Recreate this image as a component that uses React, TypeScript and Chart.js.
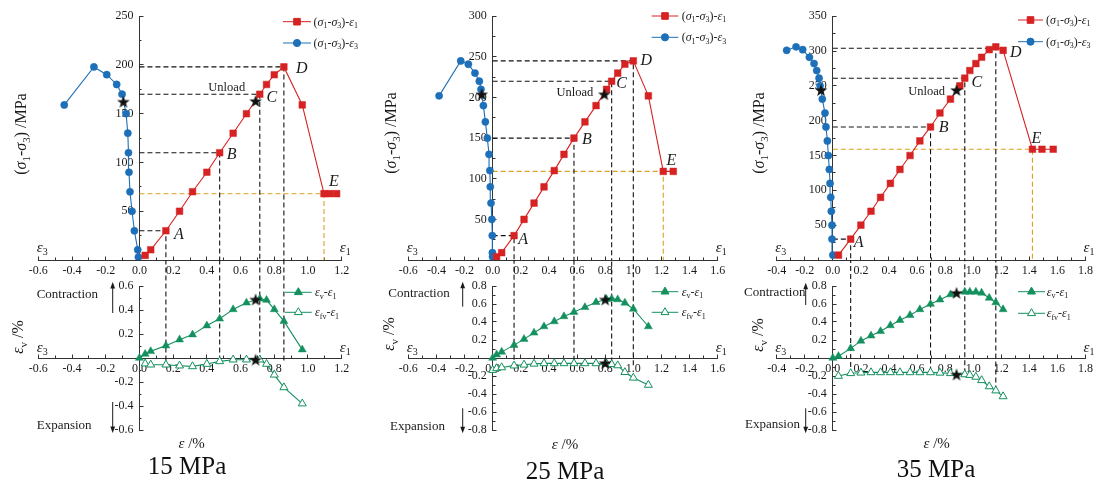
import React, { useEffect, useRef } from 'react';
import { Chart, registerables } from 'chart.js';
Chart.register(...registerables);

const FONT = "'Liberation Serif', 'Times New Roman', Times, serif";
const INK = '#1a1a1a';
const AXIS = '#333333';
const RED = '#d62222';
const BLUE = '#1d6fb8';
const GREEN = '#14905e';
const GOLD = '#d9a320';

// ---------------- 15 MPa ----------------
const e1_15 = [0.034, 0.067, 0.157, 0.238, 0.315, 0.4, 0.476, 0.556, 0.635, 0.714, 0.754, 0.8, 0.857, 0.966, 1.095, 1.13, 1.17];
const q1_15 = [4.7, 10.5, 30, 50, 70, 90, 110, 130, 150, 170, 180, 190, 198, 159, 68, 68, 68];
const e3_15 = [-0.006, -0.01, -0.03, -0.044, -0.056, -0.062, -0.065, -0.069, -0.079, -0.103, -0.135, -0.194, -0.27, -0.446];
const q3_15 = [3, 10.5, 30, 50, 70, 90, 110, 130, 150, 170, 180, 190, 198, 159];
const starUX_15 = [-0.095, 0.689];
const starUY_15 = [162.4, 163];
const evX_15 = [0, 0.034, 0.067, 0.157, 0.238, 0.315, 0.4, 0.476, 0.556, 0.635, 0.714, 0.754, 0.8, 0.857, 0.966];
const ev_15 = [0, 0.033, 0.056, 0.103, 0.153, 0.195, 0.27, 0.327, 0.405, 0.46, 0.494, 0.483, 0.405, 0.307, 0.07];
const efvX_15 = [0.034, 0.067, 0.157, 0.238, 0.315, 0.4, 0.476, 0.556, 0.635, 0.714, 0.754, 0.8, 0.857, 0.966];
const efv_15 = [-0.047, -0.056, -0.056, -0.064, -0.07, -0.05, -0.028, -0.014, -0.014, -0.014, -0.05, -0.14, -0.245, -0.38];
const starLX_15 = [0.689, 0.689];
const starLY_15 = [0.488, -0.014];
const keyX_15 = [0.157, 0.476, 0.714, 0.857, 1.095];
const keyY_15 = [30, 110, 170, 198, 68];
const guideEnd_15 = [-0.02, -0.02, -0.02, -0.02];

// ---------------- 25 MPa ----------------
const e1_25 = [0.028, 0.064, 0.152, 0.223, 0.294, 0.365, 0.438, 0.507, 0.578, 0.656, 0.735, 0.81, 0.846, 0.889, 0.94, 1.0, 1.107, 1.213, 1.284];
const q1_25 = [4, 9, 30, 50, 70, 90, 110, 130, 150, 170, 190, 210, 220, 230, 241, 245, 202, 109, 109];
const e3_25 = [-0.001, -0.002, -0.003, -0.006, -0.012, -0.017, -0.02, -0.026, -0.038, -0.052, -0.066, -0.083, -0.095, -0.126, -0.173, -0.227, -0.381];
const q3_25 = [4, 9, 30, 50, 70, 90, 110, 130, 150, 170, 190, 210, 220, 230, 241, 245, 202];
const starUX_25 = [-0.078, 0.794];
const starUY_25 = [204, 204];
const evX_25 = [0, 0.028, 0.064, 0.152, 0.223, 0.294, 0.365, 0.438, 0.507, 0.578, 0.656, 0.735, 0.81, 0.846, 0.889, 0.94, 1.0, 1.107];
const ev_25 = [0, 0.038, 0.068, 0.143, 0.21, 0.28, 0.35, 0.406, 0.462, 0.51, 0.564, 0.62, 0.652, 0.658, 0.65, 0.613, 0.545, 0.35];
const efvX_25 = [0, 0.028, 0.064, 0.152, 0.223, 0.294, 0.365, 0.438, 0.507, 0.578, 0.656, 0.735, 0.81, 0.846, 0.889, 0.94, 1.0, 1.107];
const efv_25 = [-0.135, -0.115, -0.105, -0.085, -0.075, -0.065, -0.06, -0.06, -0.06, -0.06, -0.06, -0.06, -0.064, -0.07, -0.083, -0.158, -0.22, -0.3];
const starLX_25 = [0.8, 0.8];
const starLY_25 = [0.65, -0.056];
const keyX_25 = [0.152, 0.578, 0.846, 1.0, 1.213];
const keyY_25 = [30, 150, 220, 245, 109];
const guideEnd_25 = [-0.02, -0.03, -0.05, -0.08];

// ---------------- 35 MPa ----------------
const e1_35 = [0.04, 0.127, 0.2, 0.272, 0.34, 0.41, 0.478, 0.55, 0.62, 0.696, 0.763, 0.838, 0.905, 0.94, 0.976, 1.019, 1.06, 1.114, 1.161, 1.213, 1.422, 1.49, 1.57];
const q1_35 = [7, 30, 50, 70, 90, 110, 130, 150, 171, 191, 211, 231, 250, 261, 272, 282, 291, 302, 306, 301, 159, 159, 159];
const e3_35 = [0, -0.006, -0.006, -0.011, -0.015, -0.02, -0.025, -0.032, -0.039, -0.049, -0.056, -0.075, -0.091, -0.098, -0.115, -0.134, -0.167, -0.215, -0.262, -0.329];
const q3_35 = [7, 30, 50, 70, 90, 110, 130, 150, 171, 191, 211, 231, 250, 261, 272, 282, 291, 302, 306, 301];
const starUX_35 = [-0.084, 0.881];
const starUY_35 = [244, 244];
const evX_35 = [0, 0.04, 0.127, 0.2, 0.272, 0.34, 0.41, 0.478, 0.55, 0.62, 0.696, 0.763, 0.838, 0.94, 0.976, 1.019, 1.06, 1.114, 1.161, 1.213];
const ev_35 = [0, 0.02, 0.107, 0.19, 0.248, 0.297, 0.362, 0.42, 0.476, 0.54, 0.6, 0.648, 0.705, 0.735, 0.735, 0.735, 0.724, 0.667, 0.617, 0.54];
const efvX_35 = [0.04, 0.127, 0.2, 0.272, 0.34, 0.41, 0.478, 0.55, 0.62, 0.696, 0.763, 0.838, 0.94, 0.976, 1.019, 1.06, 1.114, 1.161, 1.213];
const efv_35 = [-0.2, -0.17, -0.164, -0.16, -0.16, -0.16, -0.16, -0.16, -0.16, -0.16, -0.165, -0.17, -0.183, -0.19, -0.21, -0.248, -0.316, -0.362, -0.427];
const starLX_35 = [0.881, 0.881];
const starLY_35 = [0.724, -0.183];
const keyX_35 = [0.127, 0.696, 0.94, 1.161, 1.422];
const keyY_35 = [30, 191, 261, 304, 159];
const guideEnd_35 = [-0.1, -0.15, -0.17, -0.36];

const keyNames = ['A', 'B', 'C', 'D', 'E'];
const panelNames = ['15 MPa', '25 MPa', '35 MPa'];

// ---------------- layout ----------------
const UP_H = 285;
const AXIS_PX = 260;
const LOW_TOP = 260;
const LOW_H = 224;
const LOW_AREA_TOP = 286;
const LOW_AREA_BOT = 430;

interface Panel {
  name: string;
  left: number; width: number; areaL: number; areaR: number; upTop: number;
  xMin: number; xMax: number; yMaxU: number; yStepU: number; yMaxL: number;
  e1: number[]; q1: number[]; e3: number[]; q3: number[];
  starUX: number[]; starUY: number[];
  evX: number[]; ev: number[]; efvX: number[]; efv: number[];
  starLX: number[]; starLY: number[];
  keyX: number[]; keyY: number[]; guideEnd: number[];
  letterOff: number[][]; unload: number[];
  yTitleU: number[]; yTitleL: number[];
  legU: number[]; legL: number[];
  contr: number[]; expan: number[];
  xTitle: number[]; title: number[];
}

const PANELS: Panel[] = [
  {
    name: panelNames[0], left: 0, width: 368, areaL: 38.3, areaR: 341.7, upTop: 15,
    xMin: -0.6, xMax: 1.2, yMaxU: 250, yStepU: 50, yMaxL: 0.6,
    e1: e1_15, q1: q1_15, e3: e3_15, q3: q3_15, starUX: starUX_15, starUY: starUY_15,
    evX: evX_15, ev: ev_15, efvX: efvX_15, efv: efv_15, starLX: starLX_15, starLY: starLY_15,
    keyX: keyX_15, keyY: keyY_15, guideEnd: guideEnd_15,
    letterOff: [[13, 3], [12, 1], [12, 2], [18, 1], [10, -13]], unload: [0.518, 177.6],
    yTitleU: [21, 134], yTitleL: [18, 337],
    legU: [21.7, 43, 283, 311, 313.5], legL: [292.3, 312.3, 285, 311.7, 315],
    contr: [36.7, 293.3, 112.7, 313, 282], expan: [36.7, 425, 112.7, 402, 433],
    xTitle: [191.7, 443.3], title: [187, 465],
  },
  {
    name: panelNames[1], left: 368, width: 372, areaL: 408.3, areaR: 717.7, upTop: 12.7,
    xMin: -0.6, xMax: 1.6, yMaxU: 300, yStepU: 50, yMaxL: 0.8,
    e1: e1_25, q1: q1_25, e3: e3_25, q3: q3_25, starUX: starUX_25, starUY: starUY_25,
    evX: evX_25, ev: ev_25, efvX: efvX_25, efv: efv_25, starLX: starLX_25, starLY: starLY_25,
    keyX: keyX_25, keyY: keyY_25, guideEnd: guideEnd_25,
    letterOff: [[9, 3], [13, 0], [10, 1], [13, -1], [8, -12]], unload: [0.585, 207],
    yTitleU: [391, 133], yTitleL: [389, 334],
    legU: [16, 37.3, 651.7, 678.3, 681.7], legL: [291.7, 312.3, 651.7, 678.3, 681.7],
    contr: [388.3, 292.3, 462.7, 306.7, 281.7], expan: [390, 425.7, 462.7, 408.3, 433.3],
    xTitle: [565, 444], title: [565, 470],
  },
  {
    name: panelNames[2], left: 740, width: 361, areaL: 776.7, areaR: 1085.7, upTop: 15,
    xMin: -0.4, xMax: 1.8, yMaxU: 350, yStepU: 50, yMaxL: 0.8,
    e1: e1_35, q1: q1_35, e3: e3_35, q3: q3_35, starUX: starUX_35, starUY: starUY_35,
    evX: evX_35, ev: ev_35, efvX: efvX_35, efv: efv_35, starLX: starLX_35, starLY: starLY_35,
    keyX: keyX_35, keyY: keyY_35, guideEnd: guideEnd_35,
    letterOff: [[8, 2], [13, 0], [12, 3], [20, 3], [4, -12]], unload: [0.668, 243],
    yTitleU: [759, 133], yTitleL: [758, 335],
    legU: [20, 41.7, 1018, 1043, 1046], legL: [291.7, 313.3, 1018, 1045, 1046.7],
    contr: [744, 291.7, 805.7, 305, 282.7], expan: [745, 424, 805.7, 408.3, 433.3],
    xTitle: [936.7, 443.3], title: [936, 468],
  },
];

// ---------------- helpers ----------------
type Seg = { t: string; it?: boolean; sub?: boolean };
function parseRich(s: string, allItalic: boolean): Seg[] {
  const out: Seg[] = [];
  let buf = '';
  const flush = () => { if (buf) { out.push({ t: buf, it: allItalic }); buf = ''; } };
  let i = 0;
  while (i < s.length) {
    const ch = s[i];
    if (ch === '_' && s[i + 1] === '{') {
      flush();
      const j = s.indexOf('}', i);
      out.push({ t: s.slice(i + 2, j), sub: true });
      i = j + 1;
      continue;
    }
    if (ch === 'σ' || ch === 'ε') { flush(); out.push({ t: ch, it: true }); i++; continue; }
    buf += ch; i++;
  }
  flush();
  return out;
}

function drawRich(ctx: CanvasRenderingContext2D, text: string, x: number, y: number, size: number,
  align: 'left' | 'center' | 'right' = 'left', color = INK, allItalic = false) {
  const segs = parseRich(text, allItalic);
  const font = (s: Seg) => `${s.it ? 'italic ' : ''}${s.sub ? Math.round(size * 0.68) : size}px ${FONT}`;
  let w = 0;
  for (const s of segs) { ctx.font = font(s); w += ctx.measureText(s.t).width; }
  let cx = align === 'left' ? x : align === 'center' ? x - w / 2 : x - w;
  const base = y + size * 0.34;
  ctx.textAlign = 'left';
  ctx.textBaseline = 'alphabetic';
  ctx.fillStyle = color;
  for (const s of segs) {
    ctx.font = font(s);
    ctx.fillText(s.t, cx, s.sub ? base + size * 0.2 : base);
    cx += ctx.measureText(s.t).width;
  }
}

function drawRotated(ctx: CanvasRenderingContext2D, text: string, x: number, y: number, size: number) {
  ctx.save();
  ctx.translate(x, y);
  ctx.rotate(-Math.PI / 2);
  drawRich(ctx, text, 0, 0, size, 'center');
  ctx.restore();
}

function drawMarker(ctx: CanvasRenderingContext2D, kind: string, x: number, y: number, color: string, hollow = false) {
  ctx.fillStyle = hollow ? '#ffffff' : color;
  ctx.strokeStyle = color;
  ctx.lineWidth = 1;
  ctx.beginPath();
  if (kind === 'rect') ctx.rect(x - 3.3, y - 3.3, 6.6, 6.6);
  else if (kind === 'circle') ctx.arc(x, y, 3.6, 0, Math.PI * 2);
  else { ctx.moveTo(x, y - 4.6); ctx.lineTo(x + 4, y + 2.3); ctx.lineTo(x - 4, y + 2.3); ctx.closePath(); }
  ctx.fill();
  ctx.stroke();
}

function drawLegendRow(ctx: CanvasRenderingContext2D, x1: number, x2: number, y: number, color: string,
  kind: string, hollow: boolean, text: string, tx: number) {
  ctx.strokeStyle = color;
  ctx.lineWidth = 1;
  ctx.beginPath(); ctx.moveTo(x1, y); ctx.lineTo(x2, y); ctx.stroke();
  drawMarker(ctx, kind, (x1 + x2) / 2, y, color, hollow);
  drawRich(ctx, text, tx, y, 12, 'left');
}

function drawArrow(ctx: CanvasRenderingContext2D, x: number, y0: number, y1: number) {
  ctx.strokeStyle = INK; ctx.fillStyle = INK; ctx.lineWidth = 1;
  const d = y1 < y0 ? -1 : 1;
  ctx.beginPath(); ctx.moveTo(x, y0); ctx.lineTo(x, y1 - d * 4); ctx.stroke();
  ctx.beginPath(); ctx.moveTo(x, y1); ctx.lineTo(x - 2.4, y1 - d * 6.5); ctx.lineTo(x + 2.4, y1 - d * 6.5); ctx.closePath(); ctx.fill();
}

let starImg: HTMLCanvasElement | null = null;
function getStar(): HTMLCanvasElement {
  if (starImg) return starImg;
  const c = document.createElement('canvas');
  c.width = 14; c.height = 14;
  const g = c.getContext('2d')!;
  g.beginPath();
  for (let k = 0; k < 10; k++) {
    const r = k % 2 === 0 ? 6.6 : 2.7;
    const a = -Math.PI / 2 + (k * Math.PI) / 5;
    const px = 7 + r * Math.cos(a);
    const py = 7.6 + r * Math.sin(a);
    if (k === 0) g.moveTo(px, py); else g.lineTo(px, py);
  }
  g.closePath();
  g.fillStyle = '#111111';
  g.fill();
  starImg = c;
  return c;
}

const pts = (xs: number[], ys: number[]) => xs.map((x, i) => ({ x, y: ys[i] }));
const GAP = '\u2002';

function makeScales(p: Panel, yMin: number, yMax: number, yStep: number, fmt: (v: number) => string) {
  const font = { family: FONT, size: 12 };
  const gridMajor = { display: true, drawOnChartArea: false, drawTicks: true, tickLength: -4.5, tickColor: AXIS, tickWidth: 1 };
  const gridMinor = { ...gridMajor, tickLength: -2.5 };
  return {
    x: {
      type: 'linear', min: p.xMin, max: p.xMax, position: { y: 0 },
      border: { display: true, color: AXIS, width: 1 }, grid: gridMajor,
      ticks: { stepSize: 0.2, maxTicksLimit: 100, font, color: INK, padding: 8, maxRotation: 0, autoSkip: false,
        callback: (v: any) => Number(v).toFixed(1) },
    },
    xm: {
      type: 'linear', axis: 'x', min: p.xMin, max: p.xMax, position: { y: 0 },
      border: { display: false }, grid: gridMinor,
      ticks: { stepSize: 0.1, maxTicksLimit: 100, display: false, autoSkip: false },
    },
    y: {
      type: 'linear', min: yMin, max: yMax, position: { x: 0 },
      border: { display: true, color: AXIS, width: 1 }, grid: gridMajor,
      ticks: { stepSize: yStep, maxTicksLimit: 100, font, color: INK, padding: 9, autoSkip: false,
        callback: (v: any) => (Math.abs(Number(v)) < 1e-9 ? '' : fmt(Number(v)) + GAP) },
    },
    ym: {
      type: 'linear', axis: 'y', min: yMin, max: yMax, position: { x: 0 },
      border: { display: false }, grid: gridMinor,
      ticks: { stepSize: yStep / 2, maxTicksLimit: 100, display: false, autoSkip: false },
    },
  };
}

function upperConfig(p: Panel): any {
  const star = getStar();
  const guides: any[] = [];
  for (let k = 0; k < 5; k++) {
    guides.push({
      data: [{ x: 0, y: p.keyY[k] }, { x: p.keyX[k], y: p.keyY[k] }, { x: p.keyX[k], y: 0 }],
      showLine: true, borderColor: k === 4 ? GOLD : '#111111', borderWidth: 1.1, borderDash: [5, 3],
      pointRadius: 0, order: 10 + k,
    });
  }
  const overlay = {
    id: 'upOverlay',
    afterDraw(chart: any) {
      const ctx: CanvasRenderingContext2D = chart.ctx;
      const sx = chart.scales.x; const sy = chart.scales.y;
      const X = (v: number) => v - p.left;
      ctx.save();
      drawRotated(ctx, '(σ_{1}-σ_{3}) /MPa', X(p.yTitleU[0]), p.yTitleU[1], 16);
      const ay = sy.getPixelForValue(0) - 13;
      drawRich(ctx, 'ε_{3}', sx.getPixelForValue(p.xMin) + 4, ay, 15, 'center');
      drawRich(ctx, 'ε_{1}', sx.getPixelForValue(p.xMax) + 3.5, ay, 15, 'center');
      keyNames.forEach((n, k) => {
        drawRich(ctx, n, sx.getPixelForValue(p.keyX[k]) + p.letterOff[k][0],
          sy.getPixelForValue(p.keyY[k]) + p.letterOff[k][1], 16, 'center', INK, true);
      });
      drawRich(ctx, 'Unload', sx.getPixelForValue(p.unload[0]), sy.getPixelForValue(p.unload[1]), 12.5, 'center');
      const [y1, y2, lx1, lx2, tx] = p.legU;
      drawLegendRow(ctx, X(lx1), X(lx2), y1, RED, 'rect', false, '(σ_{1}-σ_{3})-ε_{1}', X(tx));
      drawLegendRow(ctx, X(lx1), X(lx2), y2, BLUE, 'circle', false, '(σ_{1}-σ_{3})-ε_{3}', X(tx));
      ctx.restore();
    },
  };
  return {
    type: 'scatter',
    data: {
      datasets: [
        { data: pts(p.starUX, p.starUY), pointStyle: star, showLine: false, order: 0 },
        { data: pts(p.e1, p.q1), showLine: true, borderColor: RED, backgroundColor: RED, borderWidth: 1.1,
          pointStyle: 'rect', pointRadius: 4.7, pointBorderWidth: 0.5, order: 1 },
        { data: pts(p.e3, p.q3), showLine: true, borderColor: BLUE, backgroundColor: BLUE, borderWidth: 1.1,
          pointStyle: 'circle', pointRadius: 3.6, pointBorderWidth: 0.5, order: 2 },
        ...guides,
      ],
    },
    options: {
      animation: false, responsive: false, devicePixelRatio: 1, events: [],
      layout: { padding: { left: p.areaL - p.left, right: p.left + p.width - p.areaR, top: p.upTop, bottom: UP_H - AXIS_PX } },
      plugins: { legend: { display: false }, tooltip: { enabled: false }, title: { display: false } },
      scales: makeScales(p, 0, p.yMaxU, p.yStepU, (v) => String(Math.round(v))),
    },
    plugins: [overlay],
  };
}

function lowerConfig(p: Panel): any {
  const star = getStar();
  const guides: any[] = [];
  for (let k = 0; k < 4; k++) {
    guides.push({
      data: [{ x: p.keyX[k], y: p.guideEnd[k] }, { x: p.keyX[k], y: p.yMaxL + 1 }],
      showLine: true, borderColor: '#111111', borderWidth: 1.1, borderDash: [5, 3],
      pointRadius: 0, clip: false, order: 10 + k,
    });
  }
  const overlay = {
    id: 'lowOverlay',
    afterDraw(chart: any) {
      const ctx: CanvasRenderingContext2D = chart.ctx;
      const sx = chart.scales.x; const sy = chart.scales.y;
      const X = (v: number) => v - p.left;
      const Y = (v: number) => v - LOW_TOP;
      ctx.save();
      drawRotated(ctx, 'ε_{v} /%', X(p.yTitleL[0]), Y(p.yTitleL[1]), 16);
      const ay = sy.getPixelForValue(0) - 11;
      drawRich(ctx, 'ε_{3}', sx.getPixelForValue(p.xMin) + 4, ay, 15, 'center');
      drawRich(ctx, 'ε_{1}', sx.getPixelForValue(p.xMax) + 3.5, ay, 15, 'center');
      const [y1, y2, lx1, lx2, tx] = p.legL;
      drawLegendRow(ctx, X(lx1), X(lx2), Y(y1), GREEN, 'tri', false, 'ε_{v}-ε_{1}', X(tx));
      drawLegendRow(ctx, X(lx1), X(lx2), Y(y2), GREEN, 'tri', true, 'ε_{fv}-ε_{1}', X(tx));
      drawRich(ctx, 'Contraction', X(p.contr[0]), Y(p.contr[1]), 13, 'left');
      drawArrow(ctx, X(p.contr[2]), Y(p.contr[3]), Y(p.contr[4]));
      drawRich(ctx, 'Expansion', X(p.expan[0]), Y(p.expan[1]), 13, 'left');
      drawArrow(ctx, X(p.expan[2]), Y(p.expan[3]), Y(p.expan[4]));
      drawRich(ctx, 'ε /%', X(p.xTitle[0]), Y(p.xTitle[1]), 15, 'center');
      drawRich(ctx, p.name, X(p.title[0]), Y(p.title[1]), 25, 'center', '#111111');
      ctx.restore();
    },
  };
  return {
    type: 'scatter',
    data: {
      datasets: [
        { data: pts(p.starLX, p.starLY), pointStyle: star, showLine: false, order: 0 },
        { data: pts(p.evX, p.ev), showLine: true, borderColor: GREEN, backgroundColor: GREEN, borderWidth: 1.1,
          pointStyle: 'triangle', pointRadius: 4.6, pointBorderWidth: 0.5, order: 1 },
        { data: pts(p.efvX, p.efv), showLine: true, borderColor: GREEN, backgroundColor: '#ffffff', borderWidth: 1.1,
          pointStyle: 'triangle', pointRadius: 4.6, pointBorderWidth: 1, order: 2 },
        ...guides,
      ],
    },
    options: {
      animation: false, responsive: false, devicePixelRatio: 1, events: [],
      layout: { padding: { left: p.areaL - p.left, right: p.left + p.width - p.areaR, top: LOW_AREA_TOP - LOW_TOP, bottom: LOW_TOP + LOW_H - LOW_AREA_BOT } },
      plugins: { legend: { display: false }, tooltip: { enabled: false }, title: { display: false } },
      scales: makeScales(p, -p.yMaxL, p.yMaxL, 0.2, (v) => v.toFixed(1)),
    },
    plugins: [overlay],
  };
}

function ChartBox({ left, top, width, height, make }: { left: number; top: number; width: number; height: number; make: () => any }) {
  const ref = useRef<HTMLCanvasElement>(null);
  useEffect(() => {
    const chart = new Chart(ref.current as HTMLCanvasElement, make());
    return () => chart.destroy();
  }, []);
  return (
    <canvas ref={ref} width={width} height={height}
      style={{ position: 'absolute', left, top, width, height, display: 'block' }} />
  );
}

export default function App() {
  return (
    <div style={{ position: 'absolute', left: 0, top: 0, width: 1101, height: 484, background: '#ffffff', overflow: 'hidden' }}>
      {PANELS.map((p, i) => (
        <React.Fragment key={i}>
          <ChartBox left={p.left} top={0} width={p.width} height={UP_H} make={() => upperConfig(p)} />
          <ChartBox left={p.left} top={LOW_TOP} width={p.width} height={LOW_H} make={() => lowerConfig(p)} />
        </React.Fragment>
      ))}
    </div>
  );
}
